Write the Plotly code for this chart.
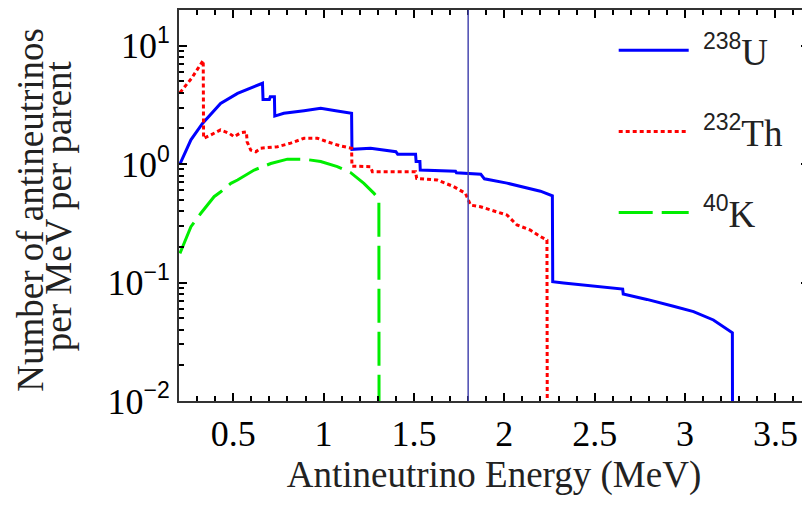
import plotly.graph_objects as go

# ---- data ----
u_x = [0.205, 0.266, 0.33, 0.43, 0.524, 0.606, 0.662, 0.665, 0.70, 0.705, 0.728, 0.73,
       0.78, 0.892, 0.984, 1.067, 1.155, 1.157, 1.26, 1.40, 1.41, 1.509, 1.512, 1.533,
       1.535, 1.73, 1.735, 1.87, 1.89, 2.015, 2.126, 2.2, 2.266, 2.268, 2.328, 2.476,
       2.605, 2.655, 2.658, 2.789, 2.936, 3.047, 3.157, 3.212, 3.262, 3.263]
u_y = [1.0, 1.6, 2.2, 3.25, 3.95, 4.44, 4.8, 3.5, 3.5, 3.7, 3.7, 2.54,
       2.68, 2.82, 2.95, 2.82, 2.68, 1.33, 1.36, 1.27, 1.21, 1.21, 1.05, 1.05,
       0.89, 0.87, 0.845, 0.82, 0.75, 0.69, 0.624, 0.59, 0.54, 0.1016, 0.099, 0.094,
       0.089, 0.088, 0.080, 0.072, 0.063, 0.0568, 0.0483, 0.0424, 0.0377, 0.005]

th_x = [0.205, 0.27, 0.334, 0.336, 0.376, 0.43, 0.477, 0.505, 0.542, 0.573, 0.577,
        0.597, 0.625, 0.652, 0.745, 0.818, 0.892, 0.966, 1.021, 1.094, 1.155, 1.157,
        1.26, 1.27, 1.509, 1.515, 1.629, 1.72, 1.785, 1.813, 1.868, 1.941, 2.015,
        2.07, 2.144, 2.2, 2.236, 2.238]
th_y = [4.0, 5.3, 7.5, 1.65, 1.76, 1.94, 1.82, 1.70, 1.84, 1.87, 1.54,
        1.31, 1.27, 1.36, 1.40, 1.50, 1.65, 1.65, 1.54, 1.42, 1.36, 0.96,
        0.95, 0.86, 0.86, 0.757, 0.733, 0.645, 0.566, 0.45, 0.436, 0.403, 0.371,
        0.306, 0.277, 0.244, 0.228, 0.005]

k_x = [0.205, 0.266, 0.321, 0.394, 0.431, 0.487, 0.524, 0.616, 0.708, 0.8, 0.892,
       0.984, 1.076, 1.15, 1.223, 1.279, 1.306, 1.307]
k_y = [0.176, 0.296, 0.384, 0.53, 0.584, 0.687, 0.733, 0.89, 1.01, 1.10, 1.10,
       1.05, 0.95, 0.845, 0.687, 0.566, 0.50, 0.005]

marker_energy = 1.8

x_tick_vals = [0.5, 1, 1.5, 2, 2.5, 3, 3.5]
x_tick_text = ["0.5", "1", "1.5", "2", "2.5", "3", "3.5"]
y_tick_vals = [0.01, 0.1, 1, 10]
y_tick_exp = ["−2", "−1", "0", "1"]

series_names = ["238", "232", "40"]
series_sym = ["U", "Th", "K"]

SERIF = "Liberation Serif"
SANS = "Liberation Sans"

# minor tick positions (axis styling)
x_minor = [round(i * 0.1, 1) for i in range(2, 37) if i % 5 != 0]
y_minor = [k * 10.0 ** e for e in (-2, -1, 0) for k in range(2, 10)]


def sup_label(num, base):
    return f"\u00a0<sup><span style='font-family:{SANS};font-size:23px'>{num}</span></sup>{base}"


def pow_label(exp):
    return f"10<sup><span style='font-family:{SANS};font-size:23px'>{exp}</span></sup>"


fig = go.Figure()
fig.add_trace(go.Scatter(x=u_x, y=u_y, mode="lines", name=sup_label(series_names[0], series_sym[0]),
                         legendgroup="u", line=dict(color="#0000ff", width=3)))
fig.add_trace(go.Scatter(x=th_x, y=th_y, mode="lines", name=sup_label(series_names[1], series_sym[1]),
                         legendgroup="th", line=dict(color="#ff0000", width=3, dash="4px,3px")))
fig.add_trace(go.Scatter(x=k_x, y=k_y, mode="lines", name=sup_label(series_names[2], series_sym[2]),
                         legendgroup="k", line=dict(color="#00ee00", width=3, dash="34px,9px")))

fig.add_vline(x=marker_energy, line=dict(color="#4848b0", width=1.5))

axis_common = dict(
    showline=True, linecolor="#333333", linewidth=2, mirror="ticks",
    ticks="inside", ticklen=8, tickwidth=2, tickcolor="black",
    showgrid=False, zeroline=False,
    tickfont=dict(family=SERIF, size=36, color="black"),
)

fig.update_xaxes(
    range=[0.2, 3.686], tickmode="array", tickvals=x_tick_vals, ticktext=x_tick_text,
    minor=dict(tickmode="array", tickvals=x_minor, ticks="inside", ticklen=5,
               tickcolor="black", tickwidth=1.6, showgrid=False),
    title=dict(text="Antineutrino Energy (MeV)", font=dict(family=SERIF, size=37, color="#222222"),
               standoff=8),
    **axis_common,
)
fig.update_yaxes(
    type="log", range=[-2, 1.3], tickmode="array", tickvals=y_tick_vals,
    ticktext=[pow_label(e) for e in y_tick_exp],
    minor=dict(tickmode="array", tickvals=y_minor, ticks="inside", ticklen=5,
               tickcolor="black", tickwidth=1.6, showgrid=False),
    **axis_common,
)

fig.add_annotation(text="Number of antineutrinos", xref="paper", yref="paper",
                   x=-0.236, y=0.49, xanchor="center", yanchor="middle",
                   textangle=-90, showarrow=False,
                   font=dict(family=SERIF, size=37, color="#222222"))
fig.add_annotation(text="per MeV per parent", xref="paper", yref="paper",
                   x=-0.191, y=0.50, xanchor="center", yanchor="middle",
                   textangle=-90, showarrow=False,
                   font=dict(family=SERIF, size=37, color="#222222"))

fig.update_layout(
    width=802, height=501,
    margin=dict(l=171, r=1, t=2, b=108, autoexpand=False),
    paper_bgcolor="white", plot_bgcolor="white",
    showlegend=True,
    legend=dict(x=0.69, y=0.975, xanchor="left", yanchor="top",
                bgcolor="rgba(0,0,0,0)", font=dict(family=SERIF, size=37, color="#222222"),
                itemwidth=70, tracegroupgap=30),
)

fig.write_html("out.html")
